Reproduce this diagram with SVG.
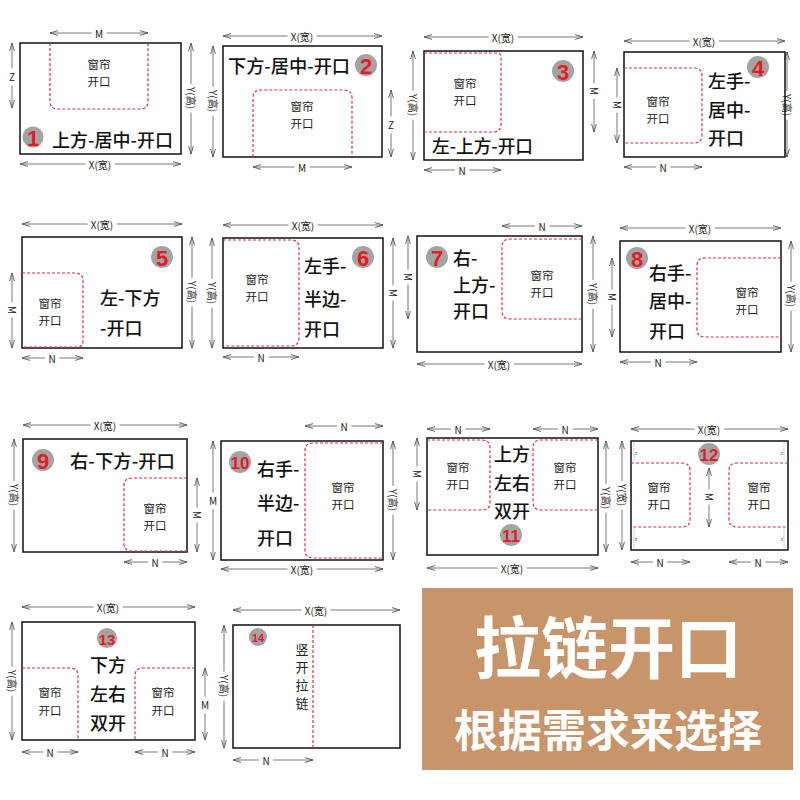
<svg xmlns="http://www.w3.org/2000/svg" width="800" height="800" viewBox="0 0 800 800">
<defs>
<marker id="a" viewBox="0 0 8 6" refX="8" refY="3" markerWidth="8" markerHeight="6" orient="auto-start-reverse" markerUnits="userSpaceOnUse"><path d="M0,0.6 L8,3 L0,5.4" fill="none" stroke="#555" stroke-width="0.9"/></marker>
</defs>
<style>
text{font-family:"Noto Sans CJK SC","Noto Sans",sans-serif;dominant-baseline:central}
.b{fill:none;stroke:#111;stroke-width:1.5}
.c{fill:none;stroke:#d8323a;stroke-width:1.2;stroke-dasharray:3 2}
.d{stroke:#555;stroke-width:0.8;marker-start:url(#a);marker-end:url(#a)}
.dl{font-size:10px;fill:#222;stroke:#fff;stroke-width:9;paint-order:stroke;stroke-linejoin:round;text-anchor:middle}
.ct{font-size:11.5px;fill:#222;text-anchor:middle}
.lb{font-size:18px;fill:#111;font-weight:500}
.bg{fill:#a3a3a3}
.n{font-family:"Liberation Sans",sans-serif;font-weight:bold;fill:#e51c23;text-anchor:middle;font-size:22px}
.n2{font-size:17px}
.zs{font-size:5px;fill:#555;text-anchor:middle}
.zl{stroke:#777;stroke-width:0.5;stroke-dasharray:1.5 1}
</style>
<rect width="800" height="800" fill="#fff"/>

<g id="connectors">
<line class="d" x1="50" y1="33" x2="148" y2="33"/><text class="dl" x="99" y="33">M</text>
<line class="d" x1="12" y1="43" x2="12" y2="108"/><text class="dl" x="12" y="76">Z</text>
<line class="d" x1="191" y1="43" x2="191" y2="154"/><text class="dl" transform="translate(191,98) rotate(90)">Y(高)</text>
<line class="d" x1="20" y1="164" x2="181" y2="164"/><text class="dl" x="100" y="164">X(宽)</text>

<line class="d" x1="223" y1="36" x2="382" y2="36"/><text class="dl" x="302" y="36">X(宽)</text>
<line class="d" x1="213" y1="46" x2="213" y2="157"/><text class="dl" transform="translate(213,101) rotate(90)">Y(高)</text>
<line class="d" x1="391" y1="90" x2="391" y2="157"/><text class="dl" x="391" y="124">Z</text>
<line class="d" x1="253" y1="167" x2="352" y2="167"/><text class="dl" x="302" y="167">M</text>

<line class="d" x1="424" y1="37" x2="583" y2="37"/><text class="dl" x="503" y="37">X(宽)</text>
<line class="d" x1="413" y1="51" x2="413" y2="160"/><text class="dl" transform="translate(413,105) rotate(90)">Y(高)</text>
<line class="d" x1="594" y1="51" x2="594" y2="132"/><text class="dl" transform="translate(594,91) rotate(90)">M</text>
<line class="d" x1="424" y1="170" x2="501" y2="170"/><text class="dl" x="462" y="170">N</text>

<line class="d" x1="624" y1="41" x2="785" y2="41"/><text class="dl" x="704" y="41">X(宽)</text>
<line class="d" x1="617" y1="68" x2="617" y2="143"/><text class="dl" transform="translate(617,105) rotate(90)">M</text>
<line class="d" x1="787" y1="52" x2="787" y2="157"/><text class="dl" transform="translate(787,105) rotate(90)">Y(高)</text>
<line class="d" x1="624" y1="167" x2="702" y2="167"/><text class="dl" x="663" y="167">N</text>

<line class="d" x1="22" y1="224" x2="182" y2="224"/><text class="dl" x="102" y="224">X(宽)</text>
<line class="d" x1="12" y1="273" x2="12" y2="348"/><text class="dl" transform="translate(12,310) rotate(90)">M</text>
<line class="d" x1="192" y1="237" x2="192" y2="348"/><text class="dl" transform="translate(192,292) rotate(90)">Y(高)</text>
<line class="d" x1="22" y1="358" x2="83" y2="358"/><text class="dl" x="52" y="358">N</text>

<line class="d" x1="223" y1="225" x2="383" y2="225"/><text class="dl" x="303" y="225">X(宽)</text>
<line class="d" x1="212" y1="238" x2="212" y2="348"/><text class="dl" transform="translate(212,293) rotate(90)">Y(高)</text>
<line class="d" x1="393" y1="238" x2="393" y2="348"/><text class="dl" transform="translate(393,293) rotate(90)">M</text>
<line class="d" x1="223" y1="357" x2="299" y2="357"/><text class="dl" x="261" y="357">N</text>

<line class="d" x1="502" y1="226" x2="582" y2="226"/><text class="dl" x="542" y="226">N</text>
<line class="d" x1="408" y1="236" x2="408" y2="319"/><text class="dl" transform="translate(408,277) rotate(90)">M</text>
<line class="d" x1="593" y1="236" x2="593" y2="352"/><text class="dl" transform="translate(593,294) rotate(90)">Y(高)</text>
<line class="d" x1="417" y1="364" x2="582" y2="364"/><text class="dl" x="499" y="364">X(宽)</text>

<line class="d" x1="620" y1="228" x2="781" y2="228"/><text class="dl" x="700" y="228">X(宽)</text>
<line class="d" x1="612" y1="258" x2="612" y2="337"/><text class="dl" transform="translate(612,297) rotate(90)">M</text>
<line class="d" x1="791" y1="241" x2="791" y2="352"/><text class="dl" transform="translate(791,296) rotate(90)">Y(高)</text>
<line class="d" x1="620" y1="362" x2="697" y2="362"/><text class="dl" x="658" y="362">N</text>

<line class="d" x1="23" y1="425" x2="187" y2="425"/><text class="dl" x="105" y="425">X(宽)</text>
<line class="d" x1="14" y1="439" x2="14" y2="552"/><text class="dl" transform="translate(14,495) rotate(90)">Y(高)</text>
<line class="d" x1="197" y1="478" x2="197" y2="552"/><text class="dl" transform="translate(197,515) rotate(90)">M</text>
<line class="d" x1="124" y1="562" x2="187" y2="562"/><text class="dl" x="155" y="562">N</text>

<line class="d" x1="305" y1="426" x2="383" y2="426"/><text class="dl" x="344" y="426">N</text>
<line class="d" x1="213" y1="441" x2="213" y2="560"/><text class="dl" x="213" y="500">M</text>
<line class="d" x1="393" y1="441" x2="393" y2="560"/><text class="dl" transform="translate(393,500) rotate(90)">Y(高)</text>
<line class="d" x1="221" y1="569" x2="383" y2="569"/><text class="dl" x="302" y="569">X(宽)</text>

<line class="d" x1="427" y1="429" x2="490" y2="429"/><text class="dl" x="458" y="429">N</text>
<line class="d" x1="533" y1="429" x2="598" y2="429"/><text class="dl" x="565" y="429">N</text>
<line class="d" x1="417" y1="438" x2="417" y2="510"/><text class="dl" transform="translate(417,474) rotate(90)">M</text>
<line class="d" x1="606" y1="441" x2="606" y2="552"/><text class="dl" transform="translate(606,498) rotate(90)">Y(高)</text>
<line class="d" x1="427" y1="568" x2="598" y2="568"/><text class="dl" x="512" y="568">X(宽)</text>

<line class="d" x1="631" y1="429" x2="788" y2="429"/><text class="dl" x="709" y="429">X(宽)</text>
<line class="d" x1="622" y1="441" x2="622" y2="550"/><text class="dl" transform="translate(622,495) rotate(90)">Y(宽)</text>
<line class="d" x1="709" y1="468" x2="709" y2="527"/><text class="dl" transform="translate(709,497) rotate(90)">M</text>
<line class="d" x1="631" y1="562" x2="690" y2="562"/><text class="dl" x="660" y="562">N</text>
<line class="d" x1="729" y1="562" x2="788" y2="562"/><text class="dl" x="758" y="562">N</text>

<line class="d" x1="22" y1="607" x2="195" y2="607"/><text class="dl" x="108" y="607">X(宽)</text>
<line class="d" x1="12" y1="622" x2="12" y2="740"/><text class="dl" transform="translate(12,681) rotate(90)">Y(高)</text>
<line class="d" x1="205" y1="668" x2="205" y2="740"/><text class="dl" x="205" y="704">M</text>
<line class="d" x1="22" y1="752" x2="78" y2="752"/><text class="dl" x="50" y="752">N</text>
<line class="d" x1="135" y1="752" x2="195" y2="752"/><text class="dl" x="165" y="752">N</text>

<line class="d" x1="233" y1="610" x2="400" y2="610"/><text class="dl" x="316" y="610">X(宽)</text>
<line class="d" x1="224" y1="625" x2="224" y2="748"/><text class="dl" transform="translate(224,686) rotate(90)">Y(高)</text>
<line class="d" x1="233" y1="760" x2="313" y2="760"/><text class="dl" x="266" y="760">N</text>
</g>

<g id="panel1">
<rect class="b" x="20" y="43" width="161" height="111"/>
<path class="c" d="M50,43 V101 Q50,109 58,109 H140 Q148,109 148,101 V43"/>
<text class="ct" x="99" y="64">窗帘</text><text class="ct" x="99" y="81">开口</text>
<circle class="bg" cx="33" cy="137" r="10.5"/><text class="n" x="33" y="138">1</text>
<text class="lb" x="52" y="139" textLength="121" lengthAdjust="spacingAndGlyphs">上方-居中-开口</text>
</g>

<g id="panel2">
<rect class="b" x="223" y="46" width="159" height="111"/>
<path class="c" d="M253,157 V98 Q253,90 261,90 H344 Q352,90 352,98 V157"/>
<text class="ct" x="302" y="106">窗帘</text><text class="ct" x="302" y="123">开口</text>
<circle class="bg" cx="366" cy="65" r="11"/><text class="n" x="366" y="66">2</text>
<text class="lb" x="228" y="65" textLength="122" lengthAdjust="spacingAndGlyphs">下方-居中-开口</text>
</g>

<g id="panel3">
<rect class="b" x="424" y="51" width="159" height="109"/>
<path class="c" d="M424,53 H497 Q501,53 501,57 V124 Q501,132 493,132 H424"/>
<text class="ct" x="465" y="83">窗帘</text><text class="ct" x="465" y="100">开口</text>
<circle class="bg" cx="563" cy="71" r="11"/><text class="n" x="563" y="72">3</text>
<text class="lb" x="432" y="145" textLength="101" lengthAdjust="spacingAndGlyphs">左-上方-开口</text>
</g>

<g id="panel4">
<rect class="b" x="624" y="52" width="161" height="105"/>
<path class="c" d="M624,68 H694 Q702,68 702,76 V135 Q702,143 694,143 H624"/>
<text class="ct" x="658" y="101">窗帘</text><text class="ct" x="658" y="118">开口</text>
<circle class="bg" cx="758" cy="67" r="11"/><text class="n" x="758" y="68">4</text>
<text class="lb" x="708" y="80">左手-</text><text class="lb" x="708" y="109">居中-</text><text class="lb" x="708" y="137">开口</text>
</g>

<g id="panel5">
<rect class="b" x="22" y="237" width="160" height="111"/>
<path class="c" d="M22,273 H75 Q83,273 83,281 V341 Q83,347 77,347 H22"/>
<text class="ct" x="50" y="303">窗帘</text><text class="ct" x="50" y="320">开口</text>
<circle class="bg" cx="162" cy="257" r="11"/><text class="n" x="162" y="258">5</text>
<text class="lb" x="100" y="297">左-下方</text><text class="lb" x="100" y="327">-开口</text>
</g>

<g id="panel6">
<rect class="b" x="223" y="238" width="160" height="110"/>
<path class="c" d="M223,240 H291 Q299,240 299,248 V338 Q299,346 291,346 H223"/>
<text class="ct" x="257" y="279">窗帘</text><text class="ct" x="257" y="296">开口</text>
<circle class="bg" cx="363" cy="257" r="11"/><text class="n" x="363" y="258">6</text>
<text class="lb" x="304" y="265">左手-</text><text class="lb" x="304" y="298">半边-</text><text class="lb" x="304" y="328">开口</text>
</g>

<g id="panel7">
<rect class="b" x="417" y="236" width="165" height="116"/>
<path class="c" d="M582,239 H510 Q502,239 502,247 V311 Q502,319 510,319 H582"/>
<text class="ct" x="542" y="275">窗帘</text><text class="ct" x="542" y="292">开口</text>
<circle class="bg" cx="437" cy="257" r="11"/><text class="n" x="437" y="258">7</text>
<text class="lb" x="453" y="257">右-</text><text class="lb" x="453" y="284">上方-</text><text class="lb" x="453" y="310">开口</text>
</g>

<g id="panel8">
<rect class="b" x="620" y="241" width="161" height="111"/>
<path class="c" d="M781,258 H705 Q697,258 697,266 V329 Q697,337 705,337 H781"/>
<text class="ct" x="747" y="292">窗帘</text><text class="ct" x="747" y="309">开口</text>
<circle class="bg" cx="637" cy="258" r="11"/><text class="n" x="637" y="259">8</text>
<text class="lb" x="649" y="272">右手-</text><text class="lb" x="649" y="300">居中-</text><text class="lb" x="649" y="330">开口</text>
</g>

<g id="panel9">
<rect class="b" x="23" y="439" width="164" height="113"/>
<path class="c" d="M187,478 H132 Q124,478 124,486 V544 Q124,551 132,551 H187"/>
<text class="ct" x="155" y="508">窗帘</text><text class="ct" x="155" y="525">开口</text>
<circle class="bg" cx="43" cy="460" r="11"/><text class="n" x="43" y="461">9</text>
<text class="lb" x="70" y="460" textLength="105" lengthAdjust="spacingAndGlyphs">右-下方-开口</text>
</g>

<g id="panel10">
<rect class="b" x="221" y="441" width="162" height="119"/>
<path class="c" d="M383,443 H313 Q305,443 305,451 V550 Q305,558 313,558 H383"/>
<text class="ct" x="343" y="487">窗帘</text><text class="ct" x="343" y="504">开口</text>
<circle class="bg" cx="240" cy="462" r="11"/><text class="n n2" x="240" y="463">10</text>
<text class="lb" x="257" y="468">右手-</text><text class="lb" x="257" y="502">半边-</text><text class="lb" x="257" y="537">开口</text>
</g>

<g id="panel11">
<rect class="b" x="427" y="438" width="171" height="117"/>
<path class="c" d="M427,440 H482 Q490,440 490,448 V502 Q490,510 482,510 H427"/>
<path class="c" d="M598,440 H541 Q533,440 533,448 V502 Q533,510 541,510 H598"/>
<text class="ct" x="458" y="467">窗帘</text><text class="ct" x="458" y="484">开口</text>
<text class="ct" x="565" y="467">窗帘</text><text class="ct" x="565" y="484">开口</text>
<text class="lb" x="512" y="453" text-anchor="middle">上方</text><text class="lb" x="512" y="482" text-anchor="middle">左右</text><text class="lb" x="512" y="510" text-anchor="middle">双开</text>
<circle class="bg" cx="511" cy="535" r="11"/><text class="n n2" x="511" y="536">11</text>
</g>

<g id="panel12">
<rect class="b" x="631" y="441" width="157" height="109"/>
<path class="c" d="M631,463 H682 Q690,463 690,471 V519 Q690,527 682,527 H631"/>
<path class="c" d="M788,463 H737 Q729,463 729,471 V519 Q729,527 737,527 H788"/>
<text class="ct" x="659" y="487">窗帘</text><text class="ct" x="659" y="504">开口</text>
<text class="ct" x="759" y="487">窗帘</text><text class="ct" x="759" y="504">开口</text>
<circle class="bg" cx="709" cy="454" r="11"/><text class="n n2" x="709" y="455">12</text>
<line class="zl" x1="634" y1="443" x2="634" y2="461"/><line class="zl" x1="634" y1="529" x2="634" y2="548"/>
<line class="zl" x1="784" y1="443" x2="784" y2="461"/><line class="zl" x1="784" y1="529" x2="784" y2="548"/>
<text class="zs" x="636" y="452">z</text><text class="zs" x="636" y="538">z</text>
<text class="zs" x="782" y="452">z</text><text class="zs" x="782" y="538">z</text>
</g>

<g id="panel13">
<rect class="b" x="22" y="622" width="173" height="118"/>
<path class="c" d="M22,668 H70 Q78,668 78,676 V740"/>
<path class="c" d="M195,668 H143 Q135,668 135,676 V740"/>
<text class="ct" x="50" y="692">窗帘</text><text class="ct" x="50" y="710">开口</text>
<text class="ct" x="163" y="692">窗帘</text><text class="ct" x="163" y="710">开口</text>
<circle class="bg" cx="107" cy="638" r="10"/><text class="n" x="107" y="639" style="font-size:15px">13</text>
<text class="lb" x="108" y="664" text-anchor="middle">下方</text><text class="lb" x="108" y="693" text-anchor="middle">左右</text><text class="lb" x="108" y="722" text-anchor="middle">双开</text>
</g>

<g id="panel14">
<rect class="b" x="233" y="625" width="167" height="123"/>
<line class="c" x1="313" y1="625" x2="313" y2="748"/>
<circle class="bg" cx="258" cy="637" r="9"/><text class="n" x="258" y="638" style="font-size:11px">14</text>
<text class="ct" x="302" y="648" style="font-size:13px">竖</text><text class="ct" x="302" y="666" style="font-size:13px">开</text>
<text class="ct" x="302" y="684" style="font-size:13px">拉</text><text class="ct" x="302" y="702" style="font-size:13px">链</text>
</g>

<g id="banner">
<rect x="422" y="588" width="371" height="182" fill="#c8956b"/>
<text x="608" y="643" text-anchor="middle" fill="#fff" font-weight="bold" font-size="67">拉链开口</text>
<text x="608" y="728" text-anchor="middle" fill="#fff" font-weight="bold" font-size="44">根据需求来选择</text>
</g>
</svg>
